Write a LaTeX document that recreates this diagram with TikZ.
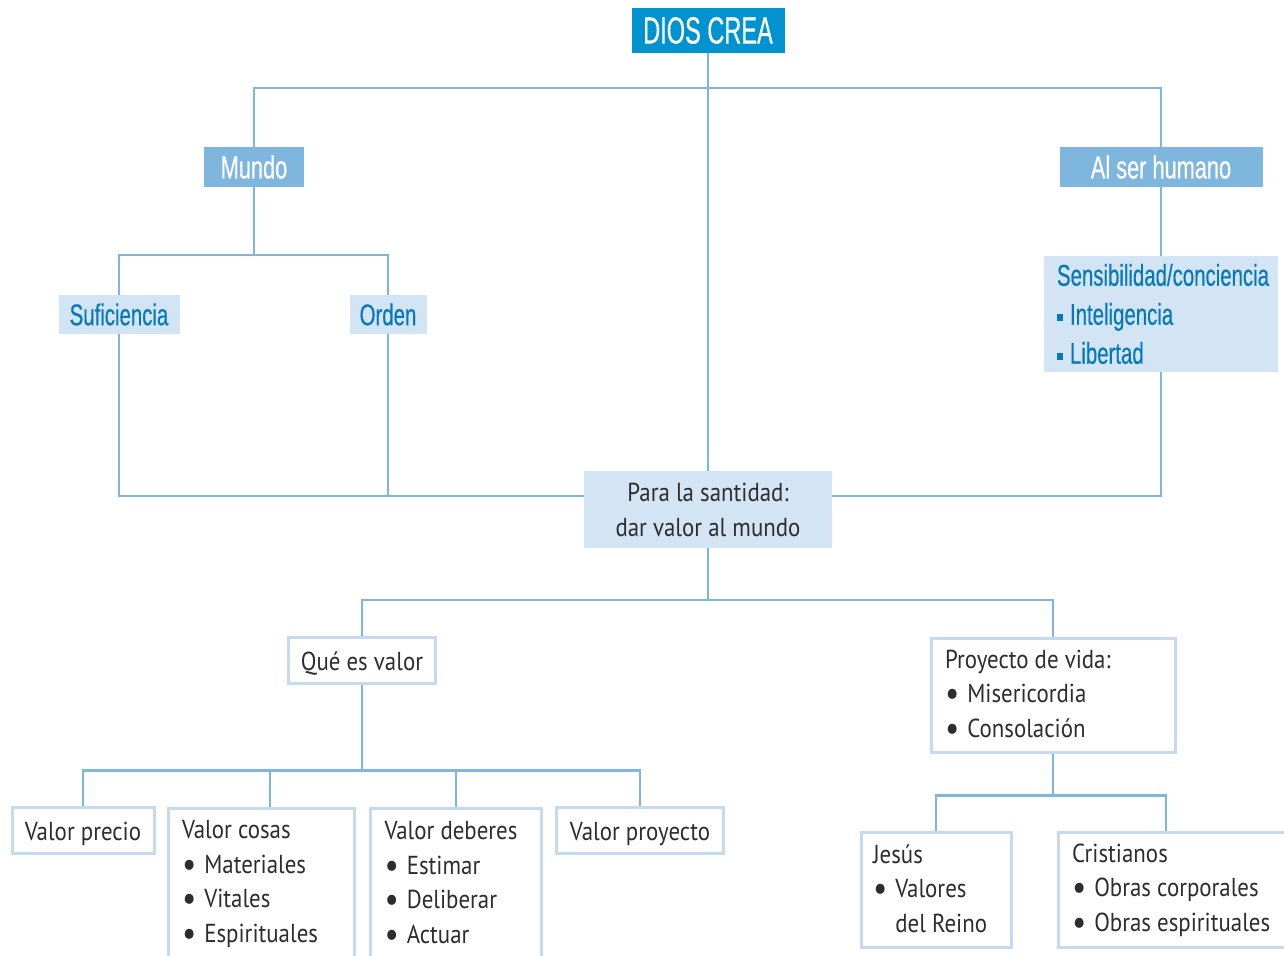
\documentclass[tikz,border=0pt]{standalone}
\usepackage{fontspec}
\setmainfont[FakeStretch=0.88]{PT Sans}
\newfontfamily\condfont[FakeStretch=0.68,FakeBold=0.4]{Liberation Sans}
\newfontfamily\headfont[FakeStretch=0.62,FakeBold=0.4]{Liberation Sans}
\usetikzlibrary{positioning}
\definecolor{deepblue}{RGB}{0,147,208}
\definecolor{midblue}{RGB}{127,182,222}
\definecolor{paleblue}{RGB}{211,228,244}
\definecolor{inkblue}{RGB}{7,121,185}
\definecolor{rimblue}{RGB}{197,218,240}
\definecolor{ink}{RGB}{45,45,45}
\newcommand{\sqbul}{\rule[4pt]{6pt}{7pt}\hspace{7pt}}
\newcommand{\dotbul}{\raisebox{-3pt}{\fontsize{36}{36}\selectfont •}\hspace{8pt}}
\tikzset{
  centered/.style = { align=center, anchor=center },
   headbox/.style = { centered, fill=deepblue, text=white, inner sep=0,
                      font=\headfont\fontsize{38}{40}\selectfont },
    midbox/.style = { centered, fill=midblue, text=white, inner sep=0, minimum height=40,
                      font=\condfont\fontsize{32}{39}\selectfont },
   palebox/.style = { centered, fill=paleblue, text=inkblue, inner sep=0, minimum height=39,
                      font=\condfont\fontsize{30}{39}\selectfont },
   santbox/.style = { centered, fill=paleblue, text=ink, inner sep=0,
                      font=\fontsize{26}{35}\selectfont },
   linebox/.style = { draw=rimblue, line width=3pt, fill=white, text=ink, inner sep=0,
                      align=flush left, font=\fontsize{26}{34.5}\selectfont },
   onebox/.style  = { linebox, align=center, minimum height=46, text height=24pt, text depth=4pt },
      link/.style = { draw=midblue, line width=2.5pt }
}
\begin{document}
\begin{tikzpicture}[x=1pt,y=-1pt]
  \useasboundingbox (0,0) rectangle (1284,955);

  % upper part
  \node[headbox, minimum width=153, minimum height=45] (dios) at (708,30.5) {DIOS CREA};
  \node[midbox, minimum width=100] (mundo) at (254,167) {Mundo};
  \node[midbox, minimum width=203] (humano) at (1161,167) {Al ser humano};
  \node[palebox, minimum width=121] (sufi) at (119,314.5) {Suficiencia};
  \node[palebox, minimum width=77] (orden) at (388,314.5) {Orden};
  \node[palebox, align=flush left, anchor=center, minimum width=234, minimum height=116,
        text width=208] (sensi) at (1161,314)
       {Sensibilidad/conciencia\\\sqbul Inteligencia\\\sqbul Libertad};
  \node[santbox, minimum width=248, minimum height=77] (para) at (708,509.5)
       {Para la santidad:\\dar valor al mundo};

  % lower part
  \node[onebox, minimum width=147] (que) at (362,660) {Qué es valor};
  \node[linebox, minimum width=244, minimum height=114, text width=216] (proy) at (1053,695)
       {Proyecto de vida:\\\dotbul Misericordia\\\dotbul Consolación};
  \node[onebox, minimum width=142] (precio) at (83,830) {Valor precio};
  \node[linebox, minimum width=186, minimum height=152, text width=158] (cosas) at (261,884)
       {Valor cosas\\\dotbul Materiales\\\dotbul Vitales\\\dotbul Espirituales};
  \node[linebox, minimum width=171, minimum height=152, text width=143] (deberes) at (456,884)
       {Valor deberes\\\dotbul Estimar\\\dotbul Deliberar\\\dotbul Actuar};
  \node[onebox, minimum width=167] (vproy) at (640,830) {Valor proyecto};
  \node[linebox, minimum width=150, minimum height=115, text width=126] (jesus) at (936,890)
       {Jesús\\\dotbul Valores\\\phantom{\dotbul}del Reino};
  \node[linebox, minimum width=240, minimum height=115, text width=212] (cris) at (1178,890)
       {Cristianos\\\dotbul Obras corporales\\\dotbul Obras espirituales};

  \coordinate (topbus) at (708,88);
  \coordinate (mbus) at (254,255);
  \coordinate (lbus) at (584,496);
  \coordinate (rbus) at (832,496);
  \coordinate (pbus) at (708,600);

  \draw[link] (dios.south) -- (para.north);
  \draw[link] (mundo.north) |- (topbus) -| (humano.north);
  \draw[link] (mundo.south) -- (mbus);
  \draw[link] (sufi.north) |- (mbus) -| (orden.north);
  \draw[link] (humano.south) -- (sensi.north);
  \draw[link] (sufi.south) |- (lbus);
  \draw[link] (orden.south) -- (orden |- lbus);
  \draw[link] (sensi.south) |- (rbus);

  \draw[link] (para.south) -- (pbus);
  \draw[link] (que.north) |- (pbus) -| (proy.north);
  \draw[link] (que.south) -- ++(0,86) coordinate (qbus);
  \draw[link] (precio.north) |- (qbus) -| (vproy.north);
  \draw[link] ([xshift=9pt]cosas.north) -- ([xshift=9pt]cosas.north |- qbus);
  \draw[link] (deberes.north) -- (deberes.north |- qbus);
  \draw[link] (proy.south) -- ++(0,42) coordinate (jbus);
  \draw[link] (jesus.north) |- (jbus) -| ([xshift=-12pt]cris.north);

\end{tikzpicture}
\end{document}
